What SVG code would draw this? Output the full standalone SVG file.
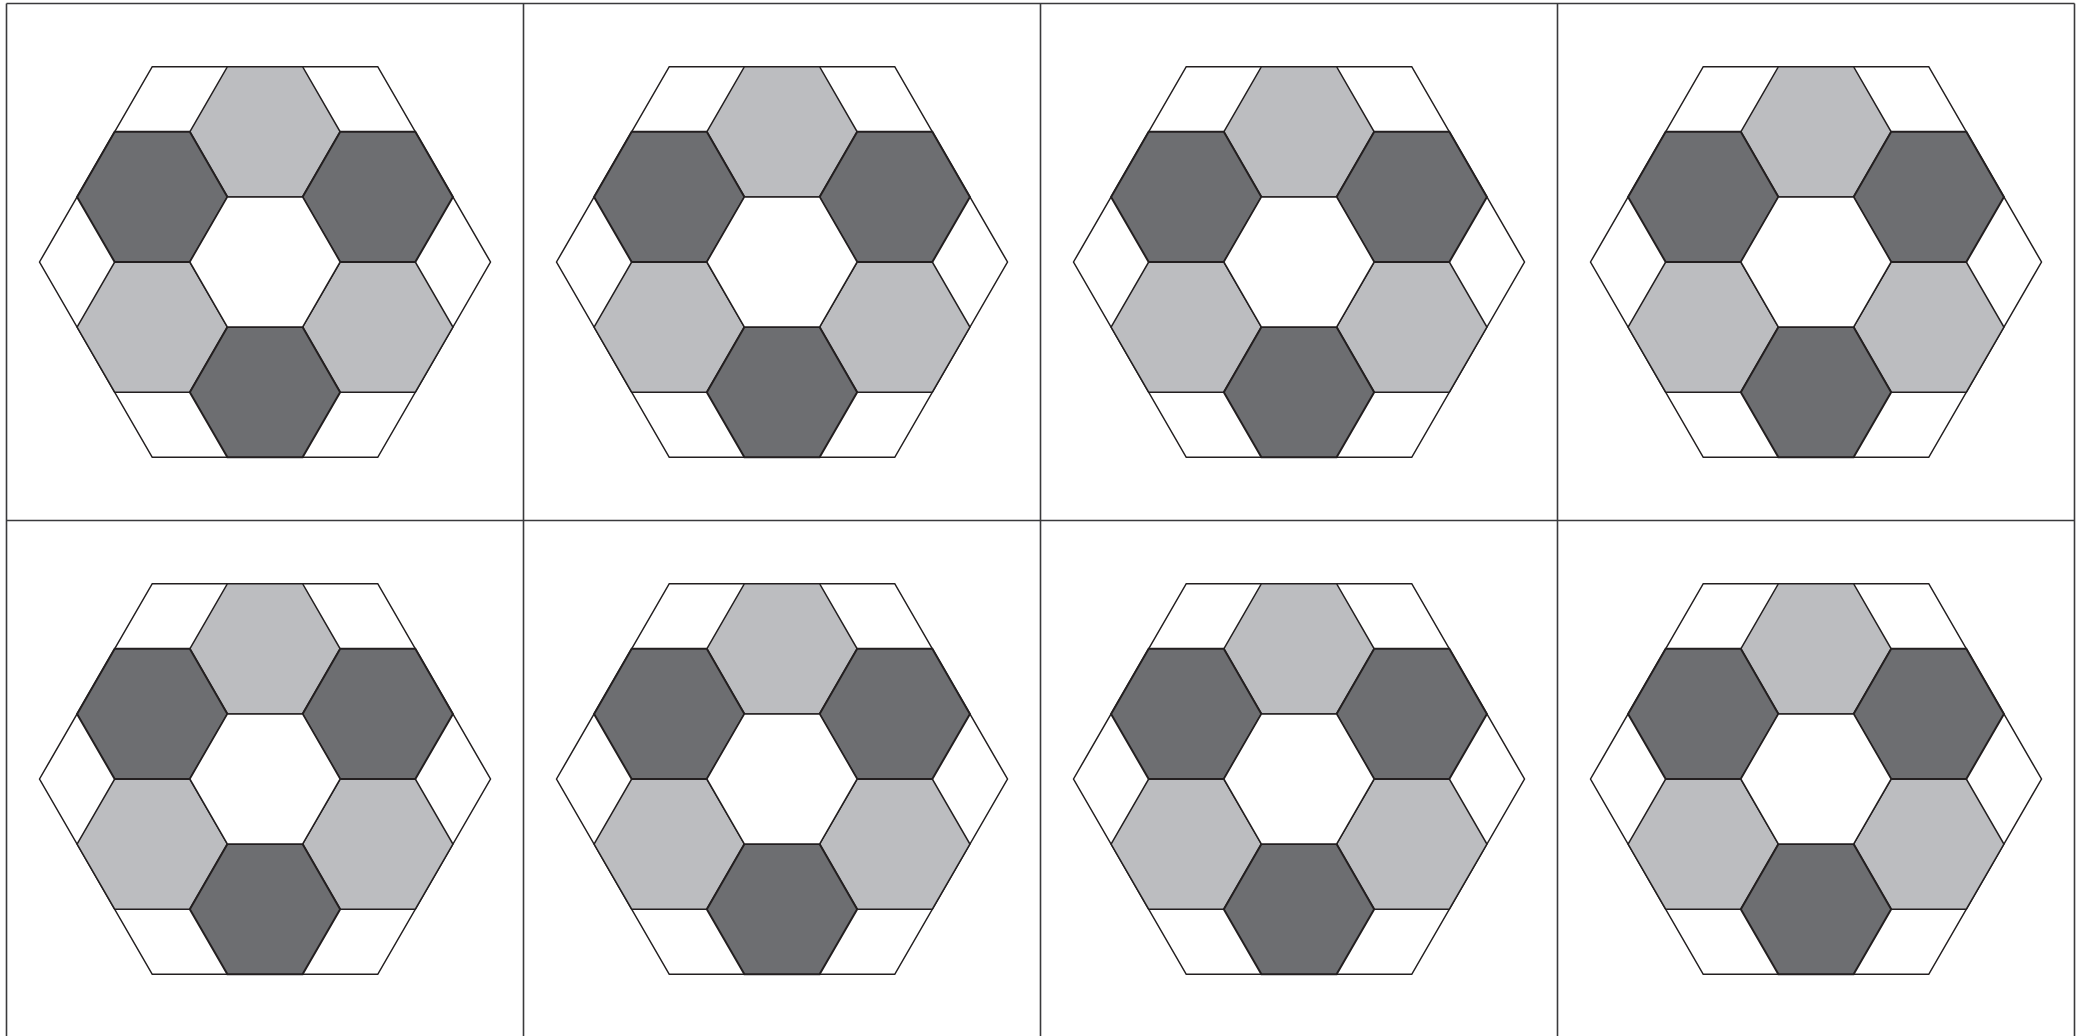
<svg xmlns="http://www.w3.org/2000/svg" xmlns:xlink="http://www.w3.org/1999/xlink" width="2085" height="1036" viewBox="0 0 2085 1036">
<style>
.grid{stroke:#3a3a3c;stroke-width:1.6;fill:none}
.big{fill:#ffffff;stroke:#231f20;stroke-width:1.5}
.lt{fill:#bcbdc0;stroke:#231f20;stroke-width:1.5}
.dk{fill:#6d6e71;stroke:#231f20;stroke-width:2}
.ct{fill:#ffffff;stroke:#231f20;stroke-width:1.5}
</style>
<defs>
<polygon id="bh" points="-225.5,0 -112.75,-195.3 112.75,-195.3 225.5,0 112.75,195.3 -112.75,195.3"/>
<polygon id="sh" points="-75.17,0 -37.58,-65.1 37.58,-65.1 75.17,0 37.58,65.1 -37.58,65.1"/>
<g id="tile">
<use xlink:href="#bh" class="big"/>
<use xlink:href="#sh" class="lt" x="0" y="-130.2"/>
<use xlink:href="#sh" class="lt" x="-112.75" y="65.1"/>
<use xlink:href="#sh" class="lt" x="112.75" y="65.1"/>
<use xlink:href="#sh" class="dk" x="-112.75" y="-65.1"/>
<use xlink:href="#sh" class="dk" x="112.75" y="-65.1"/>
<use xlink:href="#sh" class="dk" x="0" y="130.2"/>
<use xlink:href="#sh" class="ct" x="0" y="0"/>
</g>
</defs>
<rect width="2085" height="1036" fill="#ffffff"/>
<g id="cell-1-1" transform="translate(265,262)"><use xlink:href="#tile"/></g>
<g id="cell-1-2" transform="translate(782,262)"><use xlink:href="#tile"/></g>
<g id="cell-1-3" transform="translate(1299,262)"><use xlink:href="#tile"/></g>
<g id="cell-1-4" transform="translate(1816,262)"><use xlink:href="#tile"/></g>
<g id="cell-2-1" transform="translate(265,779)"><use xlink:href="#tile"/></g>
<g id="cell-2-2" transform="translate(782,779)"><use xlink:href="#tile"/></g>
<g id="cell-2-3" transform="translate(1299,779)"><use xlink:href="#tile"/></g>
<g id="cell-2-4" transform="translate(1816,779)"><use xlink:href="#tile"/></g>
<g id="grid" class="grid">
<line x1="6.5" y1="3.5" x2="2074.5" y2="3.5"/>
<line x1="6.5" y1="520.5" x2="2074.5" y2="520.5"/>
<line x1="6.5" y1="3.5" x2="6.5" y2="1036"/>
<line x1="523.5" y1="3.5" x2="523.5" y2="1036"/>
<line x1="1040.5" y1="3.5" x2="1040.5" y2="1036"/>
<line x1="1557.5" y1="3.5" x2="1557.5" y2="1036"/>
<line x1="2074.5" y1="3.5" x2="2074.5" y2="1036"/>
</g>
</svg>
